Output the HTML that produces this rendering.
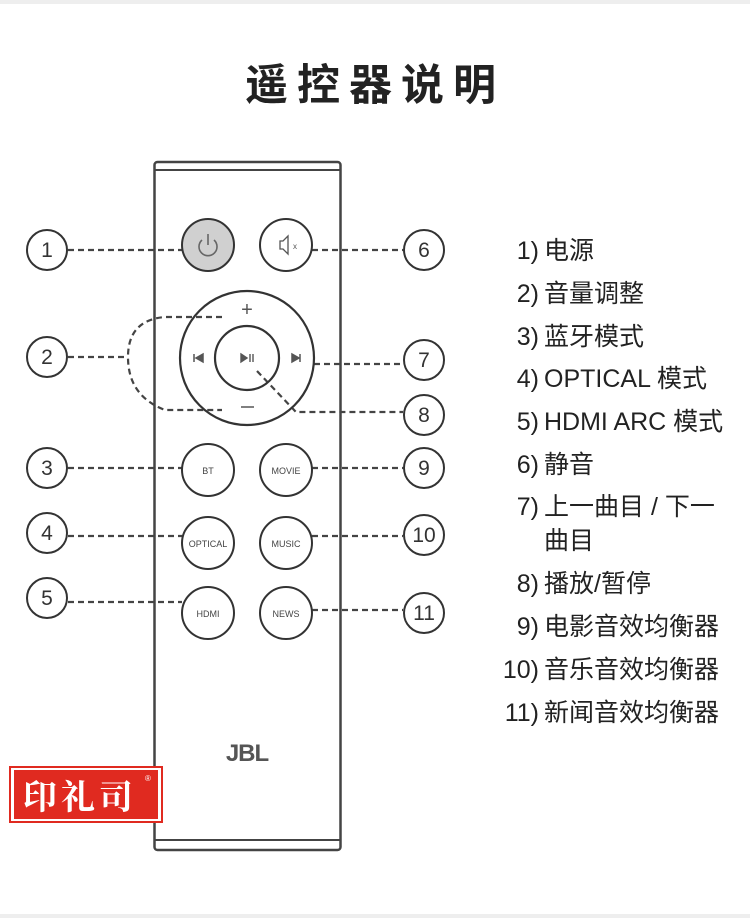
<!DOCTYPE html>
<html><head><meta charset="utf-8"><style>
html,body{margin:0;padding:0;background:#fff;}
svg{display:block;}
.t{font-family:"Liberation Sans","Noto Sans CJK SC",sans-serif;font-size:25px;fill:#222;}
.n{font-family:"Liberation Sans",sans-serif;font-size:21px;fill:#333;text-anchor:middle;}
.b{font-family:"Liberation Sans",sans-serif;font-size:9px;fill:#444;text-anchor:middle;}
.d{stroke:#444;stroke-width:2.2;stroke-dasharray:6 4;fill:none;}
</style></head><body>
<svg width="750" height="918" viewBox="0 0 750 918" xmlns="http://www.w3.org/2000/svg">
<rect x="0" y="0" width="750" height="4" fill="#eee"/>
<rect x="0" y="914" width="750" height="4" fill="#eee"/>
<text x="375" y="100" text-anchor="middle" font-family="Liberation Sans,Noto Sans CJK SC,sans-serif" font-size="43" font-weight="bold" letter-spacing="9" fill="#222">遥控器说明</text>

<rect x="154.5" y="162" width="186" height="688" rx="3" fill="#fff" stroke="#444" stroke-width="2.5"/>
<line x1="155" y1="170" x2="340" y2="170" stroke="#444" stroke-width="2"/>
<line x1="155" y1="840" x2="340" y2="840" stroke="#444" stroke-width="2"/>

<line class="d" x1="68" y1="250" x2="182" y2="250"/>
<line class="d" x1="312" y1="250" x2="403" y2="250"/>
<line class="d" x1="68" y1="357" x2="126" y2="357"/>
<path class="d" d="M222 317 H165 Q128 320 128 357 Q128 396 165 410 H222"/>
<line class="d" x1="314" y1="364" x2="403" y2="364"/>
<path class="d" d="M257 371 L296 412 H403"/>
<line class="d" x1="68" y1="468" x2="182" y2="468"/>
<line class="d" x1="312" y1="468" x2="403" y2="468"/>
<line class="d" x1="68" y1="536" x2="182" y2="536"/>
<line class="d" x1="312" y1="536" x2="403" y2="536"/>
<line class="d" x1="68" y1="602" x2="182" y2="602"/>
<line class="d" x1="312" y1="610" x2="403" y2="610"/>

<circle cx="208" cy="245" r="26" fill="#d0d0d0" stroke="#333" stroke-width="2"/>
<path d="M202 240 A9 9 0 1 0 214 240" fill="none" stroke="#666" stroke-width="1.6"/>
<line x1="208" y1="234" x2="208" y2="245" stroke="#666" stroke-width="1.6"/>
<circle cx="286" cy="245" r="26" fill="#fff" stroke="#333" stroke-width="2"/>
<path d="M280 241 h3 l5 -5 v18 l-5 -5 h-3 z" fill="none" stroke="#555" stroke-width="1.3"/>
<text x="293" y="249" font-size="8" fill="#555" font-family="Liberation Sans">x</text>

<circle cx="247" cy="358" r="67" fill="none" stroke="#333" stroke-width="2.2"/>
<circle cx="247" cy="358" r="32" fill="none" stroke="#333" stroke-width="2.2"/>
<text x="247" y="316" text-anchor="middle" font-size="20" fill="#555" font-family="Liberation Sans">+</text>
<line x1="241" y1="407" x2="254" y2="407" stroke="#555" stroke-width="1.5"/>
<path d="M194 354 v8 M203 354 l-7 4 l7 4 z" stroke="#555" fill="#555" stroke-width="1.5"/>
<path d="M292 354 l7 4 l-7 4 z M300 354 v8" stroke="#555" fill="#555" stroke-width="1.5"/>
<path d="M241 354 l6 4 l-6 4 z M250 354 v8 M253 354 v8" stroke="#555" fill="#555" stroke-width="1.4"/>

<g fill="#fff" stroke="#333" stroke-width="2">
<circle cx="208" cy="470" r="26"/><circle cx="286" cy="470" r="26"/>
<circle cx="208" cy="543" r="26"/><circle cx="286" cy="543" r="26"/>
<circle cx="208" cy="613" r="26"/><circle cx="286" cy="613" r="26"/>
</g>
<text class="b" x="208" y="474">BT</text><text class="b" x="286" y="474">MOVIE</text>
<text class="b" x="208" y="547">OPTICAL</text><text class="b" x="286" y="547">MUSIC</text>
<text class="b" x="208" y="617">HDMI</text><text class="b" x="286" y="617">NEWS</text>
<text x="247" y="761" text-anchor="middle" font-family="Liberation Sans" font-weight="bold" font-size="24" fill="#555" letter-spacing="-1">JBL</text>

<g fill="#fff" stroke="#333" stroke-width="2">
<circle cx="47" cy="250" r="20"/><circle cx="47" cy="357" r="20"/><circle cx="47" cy="468" r="20"/>
<circle cx="47" cy="533" r="20"/><circle cx="47" cy="598" r="20"/>
<circle cx="424" cy="250" r="20"/><circle cx="424" cy="360" r="20"/><circle cx="424" cy="415" r="20"/>
<circle cx="424" cy="468" r="20"/><circle cx="424" cy="535" r="20"/><circle cx="424" cy="613" r="20"/>
</g>
<text class="n" x="47" y="257">1</text><text class="n" x="47" y="364">2</text><text class="n" x="47" y="475">3</text>
<text class="n" x="47" y="540">4</text><text class="n" x="47" y="605">5</text>
<text class="n" x="424" y="257">6</text><text class="n" x="424" y="367">7</text><text class="n" x="424" y="422">8</text>
<text class="n" x="424" y="475">9</text><text class="n" x="424" y="542">10</text><text class="n" x="424" y="620">11</text>

<g class="t">
<text x="539" y="259" text-anchor="end">1)</text><text x="544" y="259">电源</text>
<text x="539" y="302" text-anchor="end">2)</text><text x="544" y="302">音量调整</text>
<text x="539" y="345" text-anchor="end">3)</text><text x="544" y="345">蓝牙模式</text>
<text x="539" y="387" text-anchor="end">4)</text><text x="544" y="387">OPTICAL 模式</text>
<text x="539" y="430" text-anchor="end">5)</text><text x="544" y="430">HDMI ARC 模式</text>
<text x="539" y="473" text-anchor="end">6)</text><text x="544" y="473">静音</text>
<text x="539" y="515" text-anchor="end">7)</text><text x="544" y="515">上一曲目 / 下一</text>
<text x="544" y="549">曲目</text>
<text x="539" y="592" text-anchor="end">8)</text><text x="544" y="592">播放/暂停</text>
<text x="539" y="635" text-anchor="end">9)</text><text x="544" y="635">电影音效均衡器</text>
<text x="539" y="678" text-anchor="end">10)</text><text x="544" y="678">音乐音效均衡器</text>
<text x="539" y="721" text-anchor="end">11)</text><text x="544" y="721">新闻音效均衡器</text>
</g>

<rect x="10" y="767" width="152" height="55" fill="#fff" stroke="#e02a20" stroke-width="2"/>
<rect x="14" y="770" width="144" height="49" fill="#e02a20"/>
<text x="80" y="809" text-anchor="middle" font-family="Noto Serif CJK SC,serif" font-weight="bold" font-size="34" fill="#fff" letter-spacing="4">印礼司</text>
<text x="148" y="781" text-anchor="middle" font-size="8" fill="#fff" font-family="Liberation Sans">®</text>
</svg>
</body></html>
